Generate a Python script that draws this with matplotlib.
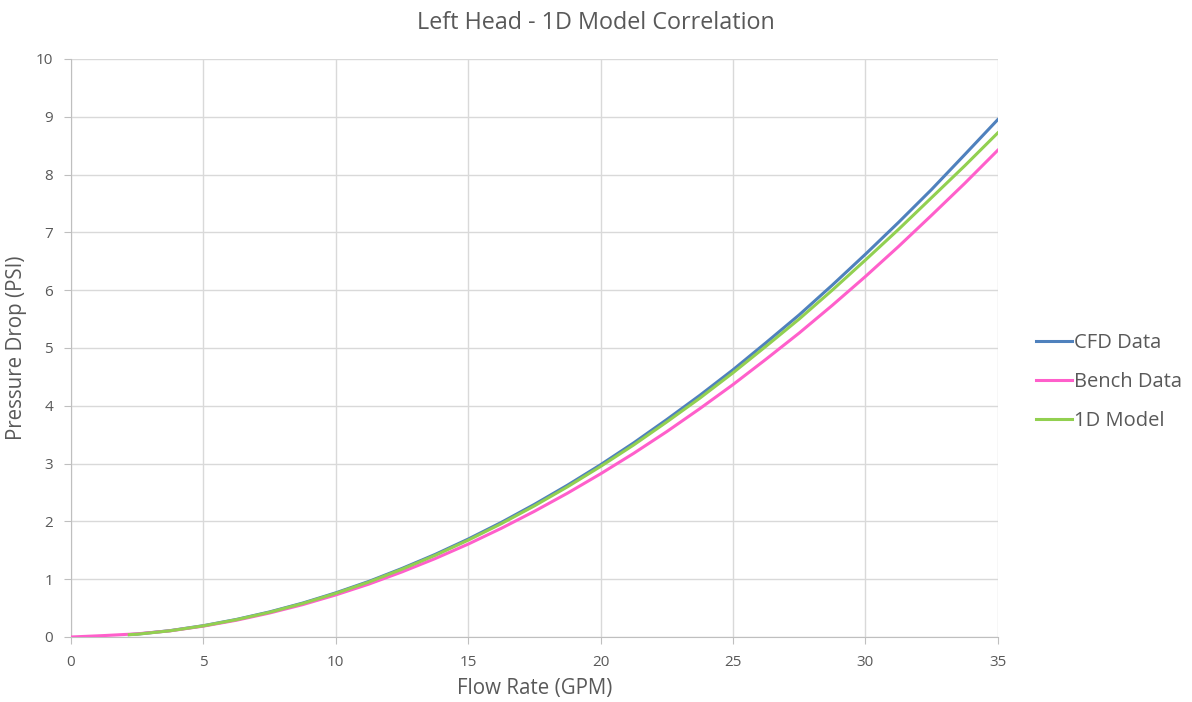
import matplotlib
matplotlib.use("Agg")
import matplotlib.pyplot as plt

plt.rcParams['font.family'] = ['Open Sans', 'DejaVu Sans']

bench_x = [0, 1.25, 2.5, 3.75, 5, 6.25, 7.5, 8.75, 10, 11.25, 12.5, 13.75, 15, 16.25,
           17.5, 18.75, 20, 21.25, 22.5, 23.75, 25, 26.25, 27.5, 28.75, 30, 31.25,
           32.5, 33.75, 35]
bench_y = [0, 0.025, 0.055, 0.107, 0.188, 0.290, 0.415, 0.560, 0.728, 0.915, 1.126,
           1.356, 1.607, 1.880, 2.174, 2.488, 2.823, 3.177, 3.553, 3.951, 4.366,
           4.806, 5.258, 5.737, 6.235, 6.754, 7.295, 7.846, 8.42]

cfd_x = [2.2, 2.5, 3.75, 5, 6.25, 7.5, 8.75, 10, 11.25, 12.5, 13.75, 15, 16.25,
         17.5, 18.75, 20, 21.25, 22.5, 23.75, 25, 26.25, 27.5, 28.75, 30, 31.25,
         32.5, 33.75, 35]
cfd_y = [0.042, 0.050, 0.111, 0.196, 0.304, 0.434, 0.587, 0.764, 0.962, 1.186,
         1.428, 1.694, 1.982, 2.294, 2.626, 2.98, 3.358, 3.762, 4.181, 4.622,
         5.092, 5.572, 6.087, 6.62, 7.171, 7.741, 8.343, 8.95]

model_x = [2.2, 2.5, 3.75, 5, 6.25, 7.5, 8.75, 10, 11.25, 12.5, 13.75, 15, 16.25,
           17.5, 18.75, 20, 21.25, 22.5, 23.75, 25, 26.25, 27.5, 28.75, 30, 31.25,
           32.5, 33.75, 35]
model_y = [0.040, 0.048, 0.108, 0.193, 0.300, 0.428, 0.580, 0.755, 0.951, 1.173,
           1.412, 1.675, 1.960, 2.268, 2.598, 2.95, 3.322, 3.720, 4.132, 4.57,
           5.03, 5.50, 6.00, 6.52, 7.05, 7.60, 8.15, 8.72]

xticks = [0, 5, 10, 15, 20, 25, 30, 35]
yticks = [0, 1, 2, 3, 4, 5, 6, 7, 8, 9, 10]

txt = '#595959'
fig = plt.figure(figsize=(11.92, 7.02), dpi=100)
ax = fig.add_axes([0.0596, 0.0926, 0.7774, 0.8234])

ax.plot(cfd_x, cfd_y, color='#4F81BD', lw=2.2, label='CFD Data', zorder=3)
ax.plot(bench_x, bench_y, color='#FF5FCB', lw=2.2, label='Bench Data', zorder=4)
ax.plot(model_x, model_y, color='#92D050', lw=2.2, label='1D Model', zorder=5)

ax.set_xlim(0, 35)
ax.set_ylim(0, 10)
ax.set_xticks(xticks)
ax.set_yticks(yticks)
ax.grid(True, color='#D9D9D9', lw=1)
ax.set_axisbelow(True)
for s in ['top', 'right']:
    ax.spines[s].set_visible(False)
for s in ['left', 'bottom']:
    ax.spines[s].set_color('#BFBFBF')
ax.tick_params(colors=txt, labelsize=11, pad=8)
ax.tick_params(axis='both', length=5, color='#BFBFBF', direction='out')

ax.set_xlabel('Flow Rate (GPM)', color=txt, fontsize=14.8, labelpad=6)
ax.set_ylabel('Pressure Drop (PSI)', color=txt, fontsize=14.8, labelpad=6)
fig.suptitle('Left Head - 1D Model Correlation', color=txt, fontsize=16.8, y=0.985)

leg = ax.legend(loc='center left', bbox_to_anchor=(1.022, 0.441), frameon=False,
                fontsize=14.5, handlelength=1.8, handletextpad=0.1, labelspacing=0.95)
for t in leg.get_texts():
    t.set_color(txt)

fig.savefig('out.png', dpi=100)
